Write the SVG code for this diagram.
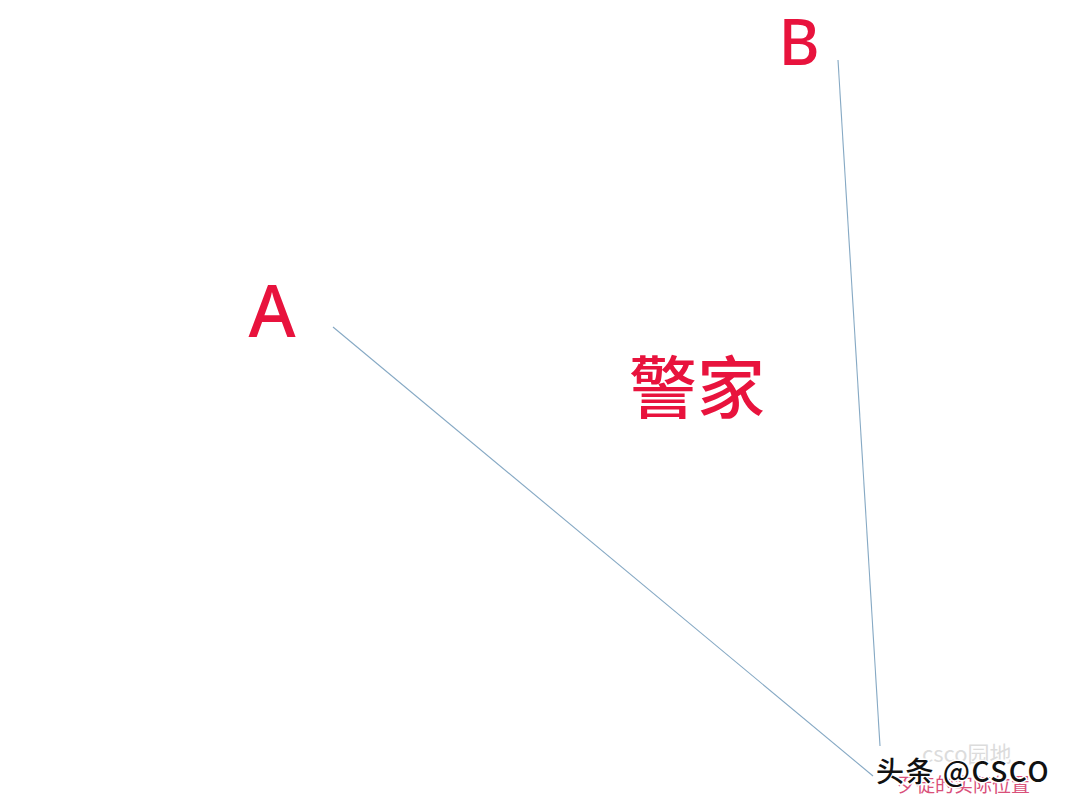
<svg xmlns="http://www.w3.org/2000/svg" width="1080" height="809" viewBox="0 0 1080 809">
<style>
.lbl{fill:#e8133d;font-family:"Noto Sans","Noto Sans CJK SC",sans-serif;font-weight:500}
.cjk{fill:#e8133d;font-family:"Noto Sans CJK SC",sans-serif;font-weight:500}
.ln{stroke:#86a9c4;stroke-width:1.1;fill:none}
.wm{font-family:"Noto Sans CJK SC",sans-serif}
</style>
<rect width="1080" height="809" fill="#ffffff"/>
<g id="connectors">
<line class="ln" x1="333" y1="327" x2="873" y2="776"/>
<line class="ln" x1="838" y1="60" x2="880" y2="746"/>
</g>
<g id="nodeA"><text class="lbl" x="272" y="337" font-size="72" text-anchor="middle">A</text></g>
<g id="nodeB"><text class="lbl" x="799" y="65" font-size="63" text-anchor="middle">B</text></g>
<g id="nodePolice"><text class="cjk" x="697" y="413" font-size="68" text-anchor="middle">警家</text></g>
<g id="watermark">
<text class="wm" x="922" y="762" font-size="22" fill="#dcdcdc">csco园地</text>
<text class="wm" x="897" y="792" font-size="19" fill="#d9507a">歹徒的实际位置</text>
<text class="wm" x="876" y="782" font-size="28" font-weight="500" letter-spacing="1.5" fill="#111" stroke="#fff" stroke-width="3" paint-order="stroke">头条 @CSCO</text>
</g>
</svg>
